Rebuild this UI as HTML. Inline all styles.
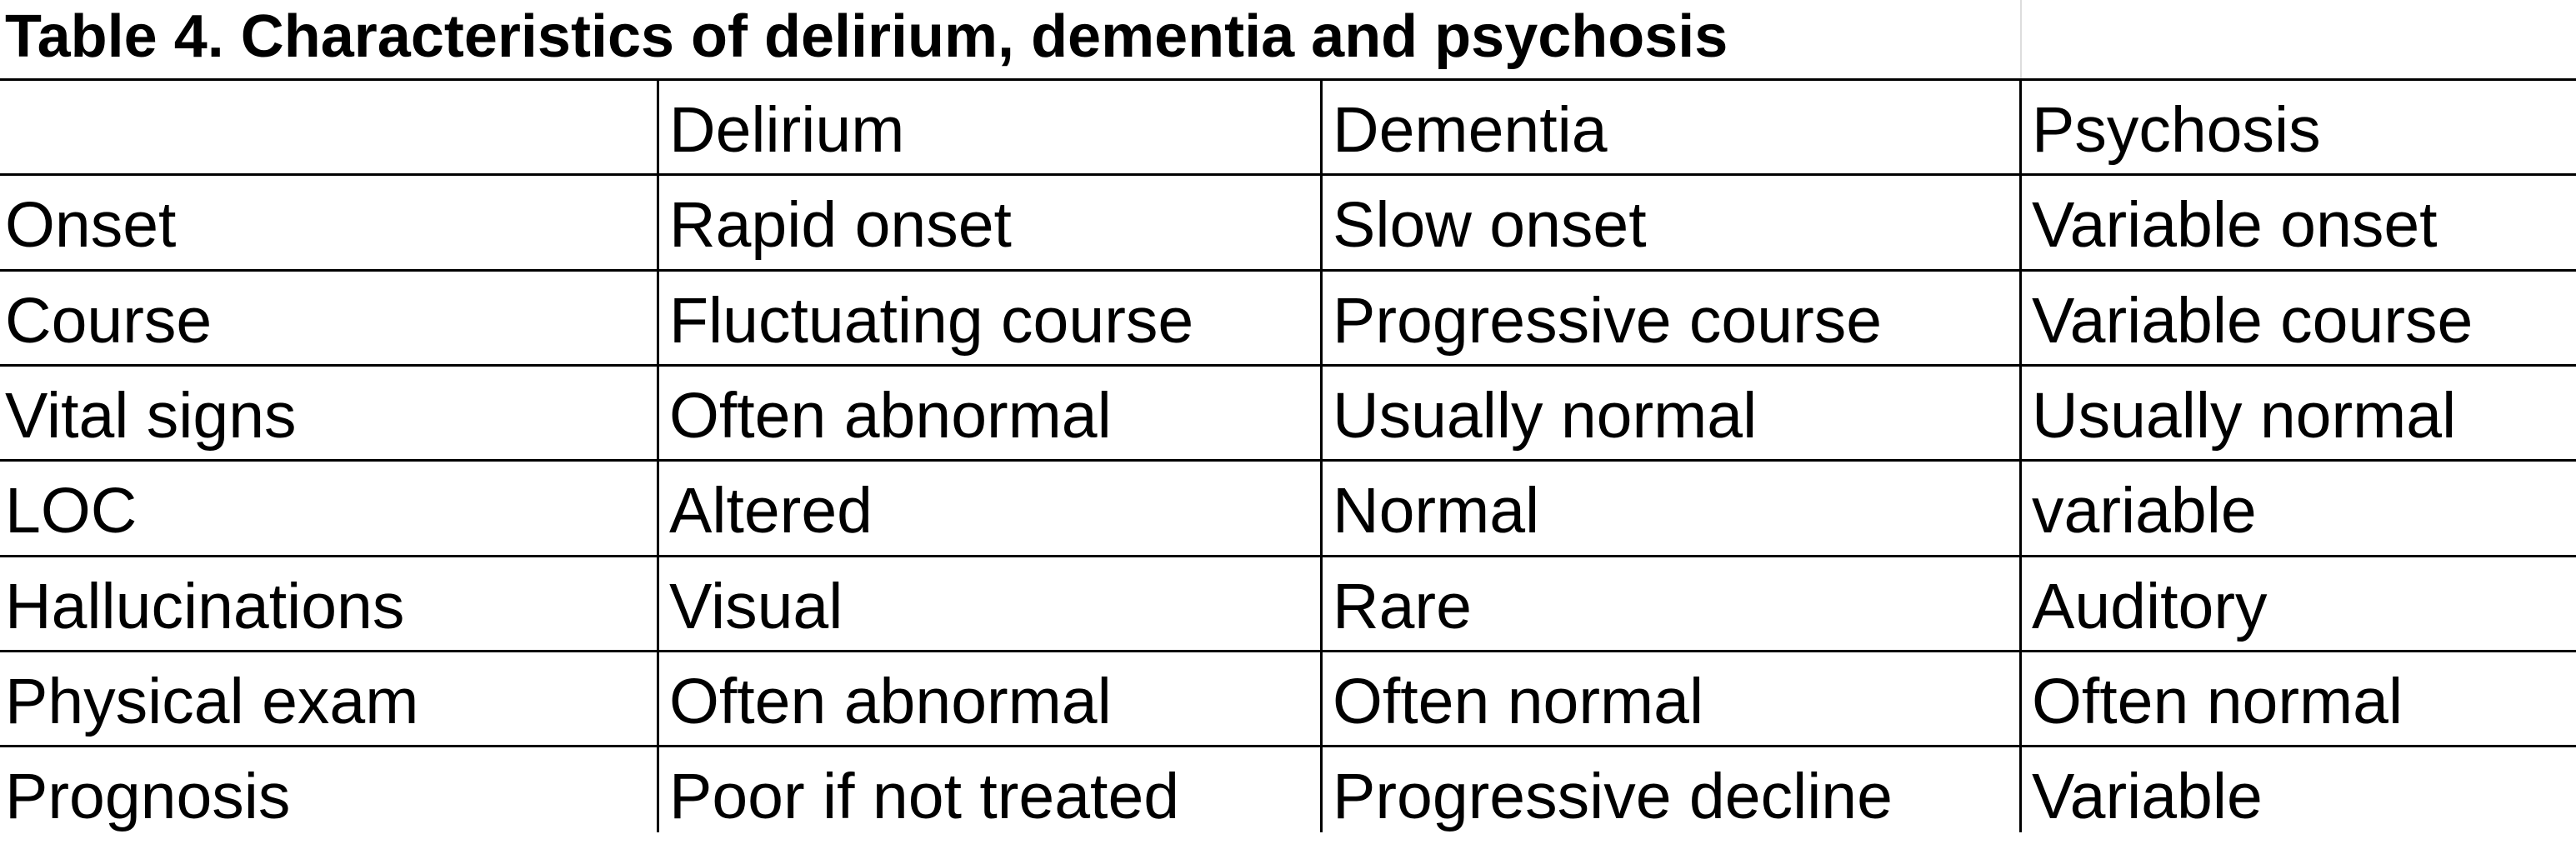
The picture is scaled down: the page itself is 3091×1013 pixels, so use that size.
<!DOCTYPE html>
<html><head><meta charset="utf-8"><style>
body{margin:0;width:3091px;height:999px;background:#fff;overflow:hidden;position:relative;font-family:"Liberation Sans",sans-serif;color:#000}
.t{position:absolute;left:6px;top:0px;font-weight:bold;font-size:72px;line-height:88px;white-space:nowrap}
.h{position:absolute;left:0;width:3091px;height:3px;background:#000}
.v{position:absolute;width:3px;background:#000}
.c{position:absolute;font-size:77px;line-height:114px;white-space:nowrap}
</style></head><body>
<div class="t">Table 4. Characteristics of delirium, dementia and psychosis</div>
<div class="v" style="left:2424px;top:0;height:95px;width:2px;background:#ddd"></div>
<div id="grid"></div>
<script>
const header=["","Delirium","Dementia","Psychosis"];
const rows=[
["Onset","Rapid onset","Slow onset","Variable onset"],
["Course","Fluctuating course","Progressive course","Variable course"],
["Vital signs","Often abnormal","Usually normal","Usually normal"],
["LOC","Altered","Normal","variable"],
["Hallucinations","Visual","Rare","Auditory"],
["Physical exam","Often abnormal","Often normal","Often normal"],
["Prognosis","Poor if not treated","Progressive decline","Variable"]];
const colX=[0,789,1585,2424];
const top0=95,rh=114.3;
const b=document.body;
const all=[header].concat(rows);
for(let i=0;i<all.length;i++){
 const l=document.createElement('div');l.className='h';l.style.top=(top0+i*rh-1)+'px';
 
 
 b.appendChild(l);
}
for(let j=1;j<4;j++){
 const l=document.createElement('div');l.className='v';l.style.left=(colX[j]-1)+'px';l.style.top=top0+'px';l.style.height=(999-top0)+'px';
 
 
 b.appendChild(l);
}
all.forEach((r,i)=>r.forEach((t,j)=>{
 const c=document.createElement('div');c.className='c';c.textContent=t;
 c.style.left=(colX[j]+(j?14:6))+'px';c.style.top=(top0+i*rh+4)+'px';
 
 
 b.appendChild(c);
}));
</script>
</body></html>
